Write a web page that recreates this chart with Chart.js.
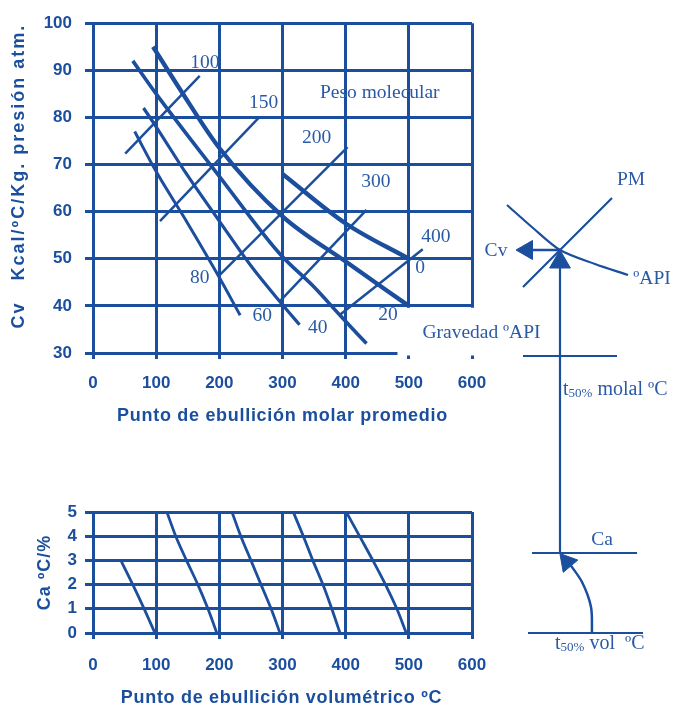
<!DOCTYPE html>
<html lang="es">
<head>
<meta charset="UTF-8">
<title>Cv - Punto de ebullición</title>
<script src="https://cdn.jsdelivr.net/npm/chart.js"></script>
<style>
  body { margin: 0; background: #fff; }
  #page { position: relative; width: 677px; height: 709px; overflow: hidden; }
  canvas { position: absolute; }
</style>
</head>
<body>
<div id="page">
  <canvas id="topChart" width="560" height="440" style="left:0;top:0"></canvas>
  <canvas id="bottomChart" width="560" height="229" style="left:0;top:480px"></canvas>
  <canvas id="scheme" width="677" height="709" style="left:0;top:0"></canvas>
</div>
<script>
const blue = '#1b4f9e';
const textBlue = '#2a5aa6';
const sans = '"Liberation Sans", Arial, sans-serif';
const serif = '"Liberation Serif", "Times New Roman", serif';

// ---- top chart: Cv vs punto de ebullición molar ----
const topX = { min: 0, max: 600, step: 100 };
const topY = { min: 30, max: 100, step: 10 };

// lines of constant API gravity
const api80 = [[66, 77], [100, 68.5], [150, 57.5], [198, 46.5], [233, 38]];
const api60 = [[80, 82], [100, 78], [148, 68], [200, 58], [250, 48.5], [299, 40.4], [327, 36]];
const api40 = [[63, 92], [100, 85], [200, 67.5], [296, 51], [350, 44], [391, 38], [433, 32]];
const api20 = [[95, 95], [140, 85.5], [200, 73.5], [300, 59], [400, 49.4], [500, 40]];
const api0  = [[300, 68], [400, 57.5], [500, 50]];

// lines of constant molecular weight
const mw100 = [[51, 72.3], [169, 88.8]];
const mw150 = [[106, 58], [263, 80]];
const mw200 = [[200, 46.5], [403, 73.7]];
const mw300 = [[296, 41], [433, 60.4]];
const mw400 = [[390, 38], [522, 52]];

const mwLabels  = [['100', 177, 91.5], ['150', 270, 83], ['200', 354, 75.6], ['300', 448, 66.3], ['400', 543, 54.6]];
const apiLabels = [['80', 169, 46], ['60', 268, 37.9], ['40', 356, 35.4], ['20', 467, 38.1], ['0', 518, 48]];

// ---- bottom chart: Ca vs punto de ebullición volumétrico ----
const botX = { min: 0, max: 600, step: 100 };
const botY = { min: 0, max: 5, step: 1 };
const ca1 = [[45, 2.95], [63, 2], [81, 1], [98, 0]];
const ca2 = [[117, 5], [131, 4], [148, 3], [166, 2], [182, 1], [196, 0]];
const ca3 = [[220, 5], [234, 4], [250, 3], [266, 2], [282, 1], [296, 0]];
const ca4 = [[317, 5], [333, 4], [348, 3], [364, 2], [378, 1], [391, 0]];
const ca5 = [[401, 5], [422, 4], [443, 3], [463, 2], [481, 1], [496, 0]];

const toXY = pts => pts.map(([x, y]) => ({ x, y }));

function curve(pts, width, smooth) {
  return {
    data: toXY(pts), showLine: true, borderColor: blue, borderWidth: width,
    pointRadius: 0, fill: false, borderCapStyle: 'butt',
    tension: smooth ? 0.3 : 0, cubicInterpolationMode: smooth === 'mono' ? 'monotone' : 'default'
  };
}

// free text for each canvas (kept outside chart options so nothing gets resolved)
const texts = {};

const textPlugin = {
  id: 'texts',
  afterDraw(chart) {
    const items = texts[chart.canvas.id] || [];
    const ctx = chart.ctx;
    const sx = chart.scales.x, sy = chart.scales.y, ca = chart.chartArea;
    items.forEach(t => {
      ctx.save();
      let px, py;
      if (t.pos) { const p = t.pos(ca); px = p[0]; py = p[1]; }
      else { px = sx.getPixelForValue(t.x); py = sy.getPixelForValue(t.y); }
      ctx.translate(px, py);
      if (t.rot) ctx.rotate(t.rot);
      ctx.fillStyle = t.color || blue;
      ctx.textBaseline = 'middle';
      ctx.textAlign = 'left';
      ctx.letterSpacing = (t.spacing || 0) + 'px';
      const parts = t.parts || [{ text: t.text }];
      let total = 0;
      parts.forEach(p => { ctx.font = p.font || t.font; total += ctx.measureText(p.text).width; });
      let cx = t.align === 'left' ? 0 : -total / 2;
      parts.forEach(p => {
        ctx.font = p.font || t.font;
        ctx.fillText(p.text, cx, p.dy || 0);
        cx += ctx.measureText(p.text).width;
      });
      ctx.restore();
    });
  }
};

// blank corner of the top chart where "Gravedad ºAPI" sits
const cutout = {
  id: 'cutout',
  beforeDatasetsDraw(chart) {
    if (chart.canvas.id !== 'topChart') return;
    const { ctx, scales: { x, y }, chartArea: a } = chart;
    const x0 = x.getPixelForValue(482);
    const y0 = y.getPixelForValue(39.6);
    ctx.save();
    ctx.fillStyle = '#fff';
    ctx.fillRect(x0, y0, a.right + 3 - x0, a.bottom + 2.5 - y0);
    ctx.restore();
  }
};

Chart.register(textPlugin, cutout);

function axes(xr, yr, xTick, yTick, yPad, xPad, yWidth, xHeight) {
  const grid = { color: blue, lineWidth: 3, drawTicks: true };
  const tickFont = { family: sans, size: 17, weight: 'bold' };
  return {
    x: {
      type: 'linear', min: xr.min, max: xr.max,
      ticks: { stepSize: xr.step, color: blue, font: tickFont, padding: xPad, maxRotation: 0 },
      grid: Object.assign({ tickLength: xTick }, grid),
      border: { color: blue, width: 3 },
      afterFit: s => { s.height = xHeight; }
    },
    y: {
      type: 'linear', min: yr.min, max: yr.max,
      ticks: { stepSize: yr.step, color: blue, font: tickFont, padding: yPad },
      grid: Object.assign({ tickLength: yTick }, grid),
      border: { color: blue, width: 3 },
      afterFit: s => { s.width = yWidth; }
    }
  };
}

const labelFont = '19.5px ' + serif;
const titleFont = 'bold 18px ' + sans;

texts.topChart = []
  .concat(mwLabels.map(([text, x, y]) => ({ text, x, y, font: labelFont, color: textBlue })))
  .concat(apiLabels.map(([text, x, y]) => ({ text, x, y, font: labelFont, color: textBlue })))
  .concat([
    { text: 'Peso molecular', x: 454, y: 85.2, font: labelFont, color: textBlue },
    { text: 'Gravedad ºAPI', x: 615, y: 34.2, font: labelFont, color: textBlue },
    { text: 'Punto de ebullición molar promedio', font: titleFont, spacing: 0.7,
      pos: a => [(a.left + a.right) / 2, a.bottom + 63] },
    { text: 'Cv   Kcal/ºC/Kg. presión atm.', font: titleFont, spacing: 2, rot: -Math.PI / 2,
      pos: a => [19, (a.top + a.bottom) / 2 - 12] }
  ]);

new Chart(document.getElementById('topChart'), {
  type: 'scatter',
  data: {
    datasets: [
      Object.assign(curve(api80, 3, 'mono'), { label: 'API 80' }),
      Object.assign(curve(api60, 3.2, 'mono'), { label: 'API 60' }),
      Object.assign(curve(api40, 3.6, 'mono'), { label: 'API 40' }),
      Object.assign(curve(api20, 4.3, 'mono'), { label: 'API 20' }),
      Object.assign(curve(api0, 4.3, 'mono'), { label: 'API 0' }),
      Object.assign(curve(mw100, 2.5), { label: 'PM 100' }),
      Object.assign(curve(mw150, 2.5), { label: 'PM 150' }),
      Object.assign(curve(mw200, 2.5), { label: 'PM 200' }),
      Object.assign(curve(mw300, 2.5), { label: 'PM 300' }),
      Object.assign(curve(mw400, 2.5), { label: 'PM 400' })
    ]
  },
  options: {
    responsive: false, animation: false, devicePixelRatio: 1, events: [],
    layout: { padding: { top: 17, right: 88, left: 0, bottom: 0 }, autoPadding: false },
    scales: axes(topX, topY, 6, 8, 13, 14, 93, 87),
    plugins: { legend: { display: false }, tooltip: { enabled: false } }
  }
});

texts.bottomChart = [
  { text: 'Punto de ebullición volumétrico ºC', font: titleFont, spacing: 0.7,
    pos: a => [(a.left + a.right) / 2 - 1, a.bottom + 65] },
  { text: 'Ca ºC/%', font: titleFont, spacing: 1, rot: -Math.PI / 2,
    pos: a => [45, (a.top + a.bottom) / 2] }
];

new Chart(document.getElementById('bottomChart'), {
  type: 'scatter',
  data: {
    datasets: [ca1, ca2, ca3, ca4, ca5].map((c, i) =>
      Object.assign(curve(c, 2.8, true), { label: 'Ca ' + (i + 1) }))
  },
  options: {
    responsive: false, animation: false, devicePixelRatio: 1, events: [],
    layout: { padding: { top: 32, right: 88, left: 0, bottom: 0 }, autoPadding: false },
    scales: axes(botX, botY, 6, 8, 8, 16, 93, 76),
    plugins: { legend: { display: false }, tooltip: { enabled: false } }
  }
});

// ---- right-hand reading key (page pixel units) ----
const pmCurve    = [[523, 287], [545, 265], [560, 250], [586, 224], [612, 198]];
const apiCurve   = [[507, 205], [533, 228], [560, 250], [595, 264], [628, 275]];
const cvArrow    = [[560, 250], [530, 250]];
const riseLine   = [[560, 262], [560, 553]];
const molalLine  = [[523, 356], [617, 356]];
const caLine     = [[532, 553], [637, 553]];
const volLine    = [[528, 633], [643, 633]];
const caArrow    = [[592, 633], [591, 607], [582, 582], [569, 563]];
const heads = [
  { at: [560, 262], r: 12, rot: 0 },
  { at: [527, 250], r: 11, rot: -90 },
  { at: [567, 562], r: 11, rot: -40 }
];

const keyFont = '20px ' + serif;
const small = '13px ' + serif;
texts.scheme = [
  { text: 'PM', x: 631, y: 180, font: labelFont, color: textBlue },
  { text: 'ºAPI', x: 652, y: 279, font: labelFont, color: textBlue },
  { text: 'Cv', x: 496, y: 251, font: labelFont, color: textBlue },
  { text: 'Ca', x: 602, y: 540, font: labelFont, color: textBlue },
  { align: 'left', x: 563, y: 390, font: keyFont, color: textBlue,
    parts: [{ text: 't' }, { text: '50%', font: small, dy: 4 }, { text: ' molal ºC' }] },
  { align: 'left', x: 555, y: 644, font: keyFont, color: textBlue,
    parts: [{ text: 't' }, { text: '50%', font: small, dy: 4 }, { text: ' vol  ºC' }] }
];

new Chart(document.getElementById('scheme'), {
  type: 'scatter',
  data: {
    datasets: [
      curve(pmCurve, 2.2, true), curve(apiCurve, 2.2, true), curve(cvArrow, 2.5),
      curve(riseLine, 2.2), curve(molalLine, 2.2), curve(caLine, 2.2), curve(volLine, 2.2),
      curve(caArrow, 2.5, true)
    ].concat(heads.map(h => ({
      data: [{ x: h.at[0], y: h.at[1] }], showLine: false, pointStyle: 'triangle',
      pointRadius: h.r, rotation: h.rot, backgroundColor: blue, borderColor: blue, borderWidth: 1
    })))
  },
  options: {
    responsive: false, animation: false, devicePixelRatio: 1, events: [],
    layout: { padding: 0, autoPadding: false },
    scales: {
      x: { type: 'linear', min: 0, max: 677, display: false },
      y: { type: 'linear', min: 0, max: 709, reverse: true, display: false }
    },
    plugins: { legend: { display: false }, tooltip: { enabled: false } }
  }
});
</script>
</body>
</html>
